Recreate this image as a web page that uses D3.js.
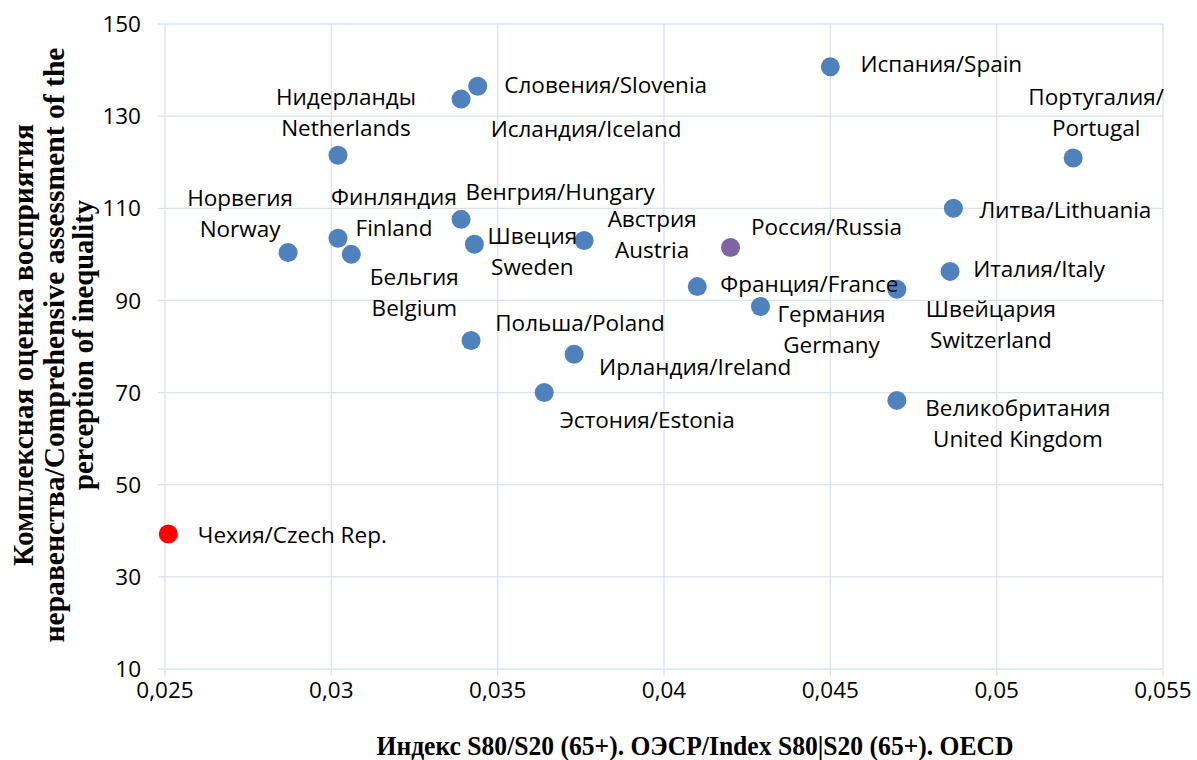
<!DOCTYPE html>
<html>
<head>
<meta charset="utf-8">
<script src="https://cdn.jsdelivr.net/npm/d3@7"></script>
<style>
  body { margin: 0; background: #fff; }
  .tick-label { font-family: "Open Sans", sans-serif; font-size: 22.5px; fill: #000; }
  .pt-label { font-family: "Open Sans", sans-serif; font-size: 22.5px; fill: #000; }
  .axis-title { font-family: "Liberation Serif", "Times New Roman", serif; font-weight: bold; fill: #000; }
</style>
</head>
<body>
<script>
// - Scatter: inequality perception vs S80/S20 (65+) -

// Data

var countries = ["Норвегия\nNorway", "Нидерланды\nNetherlands", "Финляндия\nFinland", "Бельгия\nBelgium",
                 "Венгрия/Hungary", "Словения/Slovenia", "Исландия/Iceland", "Швеция\nSweden",
                 "Австрия\nAustria", "Польша/Poland", "Ирландия/Ireland", "Эстония/Estonia",
                 "Франция/France", "Россия/Russia", "Германия\nGermany", "Испания/Spain",
                 "Швейцария\nSwitzerland", "Великобритания\nUnited Kingdom", "Италия/Italy",
                 "Литва/Lithuania", "Португалия/\nPortugal", "Чехия/Czech Rep."];
var s80s20 = [0.0287, 0.0302, 0.0302, 0.0306, 0.0339, 0.0344, 0.0339, 0.0343, 0.0376, 0.0342, 0.0373,
              0.0364, 0.0410, 0.0420, 0.0429, 0.0450, 0.0470, 0.0470, 0.0486, 0.0487, 0.0523, 0.0251];
var perception = [100.4, 121.5, 103.5, 100.0, 107.6, 136.5, 133.7, 102.2, 103.0, 81.3, 78.3,
                  70.0, 93.0, 101.5, 88.7, 140.7, 92.4, 68.3, 96.3, 110.0, 120.9, 39.3];
var xTicks = [0.025, 0.03, 0.035, 0.04, 0.045, 0.05, 0.055];
var yTicks = [10, 30, 50, 70, 90, 110, 130, 150];

// Label placement (offset of first line centre from point, px)

var labelOffset = [[-48, -55], [8, -58], [56, -41], [63, 23], [99, -27], [128, -1], [125, 30], [58, -8],
                   [68, -22], [109, -18], [121, 13], [103, 27], [112, -3], [96, -21], [71, 7], [111, -3],
                   [94, 20], [121, 7], [89, -3], [112, 2], [23, -61], [124, 1]];

// Chart size

const w = 1197,
      h = 760,
      padLeft = 165,
      padRight = 1163,
      padTop = 24,
      padBottom = 669,
      lineGap = 31;

const gridColor = "#d9e3f1";

const svg = d3.select("body")
              .append("svg")
              .attr("width", w)
              .attr("height", h);

const x = d3.scaleLinear().domain([0.025, 0.055]).range([padLeft, padRight]);
const y = d3.scaleLinear().domain([10, 150]).range([padBottom, padTop]);

const ru = d3.formatLocale({ decimal: ",", thousands: " ", grouping: [3], currency: ["", ""] });
const fmtX = d => ru.format(",")(+d.toFixed(3));

// Grid

svg.append("g")
   .selectAll("line")
   .data(yTicks)
   .enter()
   .append("line")
   .attr("x1", padLeft - 7)
   .attr("x2", padRight)
   .attr("y1", d => y(d))
   .attr("y2", d => y(d))
   .attr("stroke", gridColor)
   .attr("stroke-width", 1.3);

svg.append("g")
   .selectAll("line")
   .data(xTicks)
   .enter()
   .append("line")
   .attr("x1", d => x(d))
   .attr("x2", d => x(d))
   .attr("y1", padTop)
   .attr("y2", padBottom + 7)
   .attr("stroke", gridColor)
   .attr("stroke-width", 1.3);

// Tick labels

svg.append("g")
   .selectAll("text")
   .data(yTicks)
   .enter()
   .append("text")
   .attr("class", "tick-label")
   .attr("x", padLeft - 24)
   .attr("y", d => y(d))
   .attr("dy", "0.36em")
   .attr("text-anchor", "end")
   .text(d => d);

svg.append("g")
   .selectAll("text")
   .data(xTicks)
   .enter()
   .append("text")
   .attr("class", "tick-label")
   .attr("x", d => x(d))
   .attr("y", padBottom + 21)
   .attr("dy", "0.36em")
   .attr("text-anchor", "middle")
   .text(fmtX);

// Points

const pointColor = i => i === 13 ? "#8064a2" : (i === 21 ? "#ff0000" : "#4f81bd");

svg.append("g")
   .selectAll("circle")
   .data(s80s20)
   .enter()
   .append("circle")
   .attr("cx", d => x(d))
   .attr("cy", (d, i) => y(perception[i]))
   .attr("r", 9.5)
   .attr("fill", (d, i) => pointColor(i));

// Point labels

const lbl = svg.append("g")
               .selectAll("text")
               .data(countries)
               .enter()
               .append("text")
               .attr("class", "pt-label")
               .attr("text-anchor", "middle");

lbl.selectAll("tspan")
   .data((d, i) => d.split("\n").map((t, k) => ({ t: t, k: k, i: i })))
   .enter()
   .append("tspan")
   .attr("x", d => x(s80s20[d.i]) + labelOffset[d.i][0])
   .attr("y", d => y(perception[d.i]) + labelOffset[d.i][1] + d.k * lineGap)
   .attr("dy", "0.36em")
   .text(d => d.t);

// Axis titles

svg.append("text")
   .attr("class", "axis-title")
   .attr("x", 695)
   .attr("y", 755)
   .attr("text-anchor", "middle")
   .attr("font-size", 27)
   .attr("textLength", 637)
   .attr("lengthAdjust", "spacingAndGlyphs")
   .text("Индекс S80/S20 (65+). ОЭСР/Index S80|S20 (65+). OECD");

const yTitle = [["Комплексная оценка восприятия", 442, 33],
                ["неравенства/Comprehensive assessment of the", 595, 64],
                ["perception of inequality", 290, 93]];

svg.append("g")
   .selectAll("text")
   .data(yTitle)
   .enter()
   .append("text")
   .attr("class", "axis-title")
   .attr("font-size", 29)
   .attr("transform", d => "translate(" + d[2] + ",345) rotate(-90)")
   .attr("text-anchor", "middle")
   .attr("textLength", d => d[1])
   .attr("lengthAdjust", "spacingAndGlyphs")
   .text(d => d[0]);
</script>
</body>
</html>
